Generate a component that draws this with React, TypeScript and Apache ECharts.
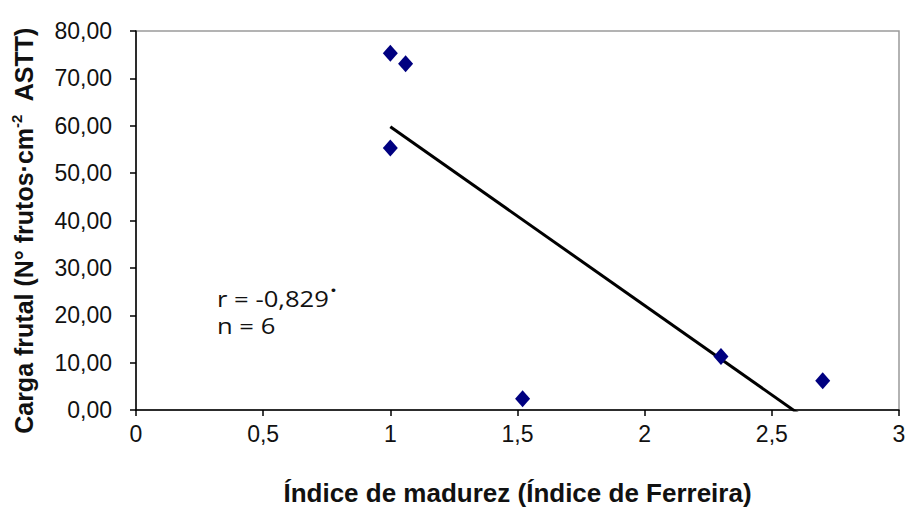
import React, { useEffect, useRef } from "react";
import * as echarts from "echarts";

const xValues = [1.0, 1.06, 1.0, 1.52, 2.3, 2.7];
const yValues = [75.3, 73.1, 55.3, 2.4, 11.3, 6.2];
const xTicks = ["0", "0,5", "1", "1,5", "2", "2,5", "3"];
const annotationR = "-0,829";
const annotationN = "6";

function regression(xs: number[], ys: number[]) {
  const n = xs.length;
  const mx = xs.reduce((a, b) => a + b, 0) / n;
  const my = ys.reduce((a, b) => a + b, 0) / n;
  let sxy = 0;
  let sxx = 0;
  for (let i = 0; i < n; i++) {
    sxy += (xs[i] - mx) * (ys[i] - my);
    sxx += (xs[i] - mx) * (xs[i] - mx);
  }
  const slope = sxy / sxx;
  return { slope, intercept: my - slope * mx };
}

export default function App() {
  const ref = useRef<HTMLDivElement>(null);
  useEffect(() => {
    if (!ref.current) return;
    const chart = echarts.init(ref.current, undefined, { renderer: "svg" });
    const { slope, intercept } = regression(xValues, yValues);
    const xmin = Math.min(...xValues);
    const xmax = Math.max(...xValues);
    const lineData = [
      [xmin, intercept + slope * xmin],
      [xmax, intercept + slope * xmax],
    ];
    const font = "Liberation Sans, Arial, sans-serif";
    const annFont = "Open Sans, sans-serif";
    chart.setOption({
      animation: false,
      backgroundColor: "#ffffff",
      grid: {
        left: 136,
        top: 31,
        right: 7,
        bottom: 97,
        containLabel: false,
        outerBoundsMode: "none",
        show: true,
        borderColor: "#9a9a9a",
        borderWidth: 1.5,
        backgroundColor: "transparent",
      },
      xAxis: {
        type: "value",
        min: 0,
        max: 3,
        interval: 0.5,
        splitLine: { show: false },
        axisLine: { show: true, onZero: false, lineStyle: { color: "#000", width: 1.5 } },
        axisTick: { show: true, length: 6, lineStyle: { color: "#000", width: 1.5 } },
        axisLabel: {
          margin: 12,
          color: "#111",
          fontFamily: font,
          fontSize: 23,
          formatter: (v: number) => xTicks[Math.round(v / 0.5)] ?? "",
        },
        name: "Índice de madurez (Índice de Ferreira)",
        nameLocation: "middle",
        nameGap: 70,
        nameTextStyle: { color: "#111", fontFamily: font, fontSize: 26, fontWeight: "bold" },
      },
      yAxis: {
        type: "value",
        min: 0,
        max: 80,
        interval: 10,
        splitLine: { show: false },
        axisLine: { show: true, onZero: false, lineStyle: { color: "#000", width: 1.5 } },
        axisTick: { show: true, length: 6, lineStyle: { color: "#000", width: 1.5 } },
        axisLabel: {
          margin: 24,
          color: "#111",
          fontFamily: font,
          fontSize: 23,
          formatter: (v: number) => v.toFixed(2).replace(".", ","),
        },
        name: "{a|Carga frutal (N° frutos·cm}{s|-2}{a|  ASTT)}",
        nameLocation: "middle",
        nameGap: 98,
        nameRotate: 90,
        nameTextStyle: {
          padding: [0, 20, 0, 0],
          rich: {
            a: { color: "#111", fontFamily: font, fontSize: 25, fontWeight: "bold" },
            s: {
              color: "#111",
              fontFamily: font,
              fontSize: 15,
              fontWeight: "bold",
              verticalAlign: "top",
              padding: [0, 0, 14, 0],
            },
          },
        },
      },
      series: [
        {
          type: "line",
          data: lineData,
          showSymbol: false,
          symbol: "none",
          lineStyle: { color: "#000", width: 3 },
          clip: true,
          z: 2,
        },
        {
          type: "scatter",
          data: xValues.map((x, i) => [x, yValues[i]]),
          symbol: "diamond",
          symbolSize: [15, 17],
          itemStyle: { color: "#000080", opacity: 1 },
          z: 3,
        },
      ],
      graphic: [
        {
          type: "text",
          x: 217,
          y: 283,
          scaleX: 1.22,
          style: {
            text: "{a|r = " + annotationR + "}{s|•}",
            verticalAlign: "top",
            rich: {
              a: { fontFamily: annFont, fontSize: 21, fill: "#111" },
              s: { fontFamily: annFont, fontSize: 15, fill: "#111", verticalAlign: "top", padding: [0, 0, 16, 1] },
            },
          },
        },
        {
          type: "text",
          x: 217,
          y: 315,
          scaleX: 1.22,
          style: {
            text: "n = " + annotationN,
            verticalAlign: "top",
            fontFamily: annFont,
            fontSize: 21,
            fill: "#111",
          },
        },
      ],
    });
    return () => chart.dispose();
  }, []);
  return (
    <div
      ref={ref}
      style={{ position: "absolute", left: 0, top: 0, width: 906, height: 507 }}
    />
  );
}
